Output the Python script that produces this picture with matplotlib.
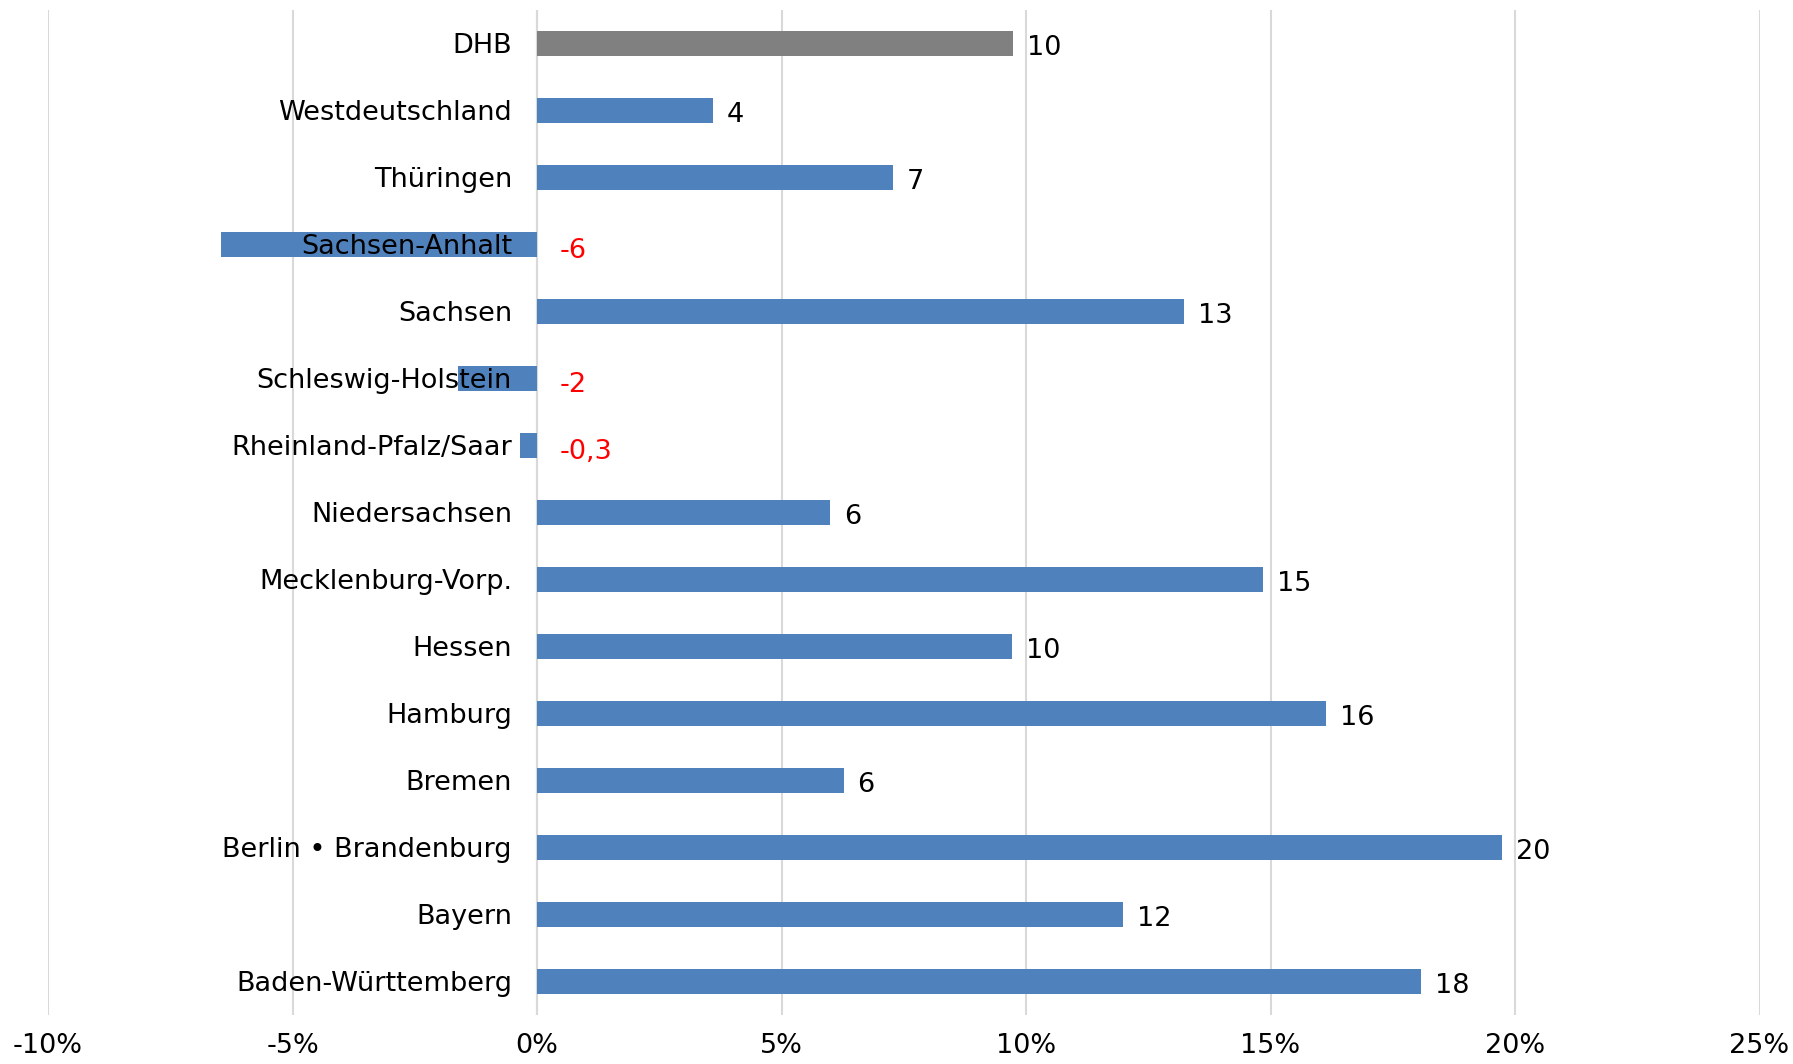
import matplotlib.pyplot as plt
from matplotlib.ticker import FuncFormatter

# Daten (von oben nach unten)
regionen = ['DHB', 'Westdeutschland', 'Thüringen', 'Sachsen-Anhalt', 'Sachsen',
            'Schleswig-Holstein', 'Rheinland-Pfalz/Saar', 'Niedersachsen',
            'Mecklenburg-Vorp.', 'Hessen', 'Hamburg', 'Bremen',
            'Berlin • Brandenburg', 'Bayern', 'Baden-Württemberg']
werte = [9.73, 3.6, 7.28, -6.46, 13.23, -1.62, -0.35, 5.99, 14.84, 9.71,
         16.13, 6.27, 19.73, 11.99, 18.07]
beschriftung = ['10', '4', '7', '-6', '13', '-2', '-0,3', '6', '15', '10',
                '16', '6', '20', '12', '18']
x_ticks = [-10, -5, 0, 5, 10, 15, 20, 25]

fig = plt.figure(figsize=(17.93, 10.64), dpi=100)
ax = fig.add_axes([48 / 1793, 1 - 1015 / 1064, (1759.5 - 48) / 1793, 1005 / 1064])

farben = ['#808080'] + ['#4F81BD'] * (len(regionen) - 1)
pos = list(range(len(regionen)))
ax.barh(pos, werte, height=0.36, color=farben, zorder=2)

# Werte neben die Balken schreiben
for p, w, txt in zip(pos, werte, beschriftung):
    if w >= 0:
        ax.annotate(txt, (w, p), xytext=(10, -3), textcoords='offset points',
                    ha='left', va='center', fontsize=19.5, color='black')
    else:
        ax.annotate(txt, (0, p), xytext=(16, -5), textcoords='offset points',
                    ha='left', va='center', fontsize=19.5, color='red')

# Kategorienamen links der Nulllinie (über den Balken)
for p, name in zip(pos, regionen):
    ax.annotate(name, (0, p), xytext=(-18, -2), textcoords='offset points',
                ha='right', va='center', fontsize=19.5, color='black', zorder=3)

ax.set_xlim(-10, 25)
ax.set_ylim(len(regionen) - 0.5, -0.5)
ax.set_xticks(x_ticks)
ax.xaxis.set_major_formatter(FuncFormatter(lambda v, _: f'{v:.0f}%'))
ax.set_yticks([])

ax.grid(axis='x', color='#d9d9d9', linewidth=1.5, zorder=0)
ax.axvline(0, color='#d9d9d9', linewidth=1.5, zorder=1)
for s in ax.spines.values():
    s.set_visible(False)

ax.tick_params(axis='x', length=0, pad=13, labelsize=19.5)

plt.savefig('out.png', dpi=100)
